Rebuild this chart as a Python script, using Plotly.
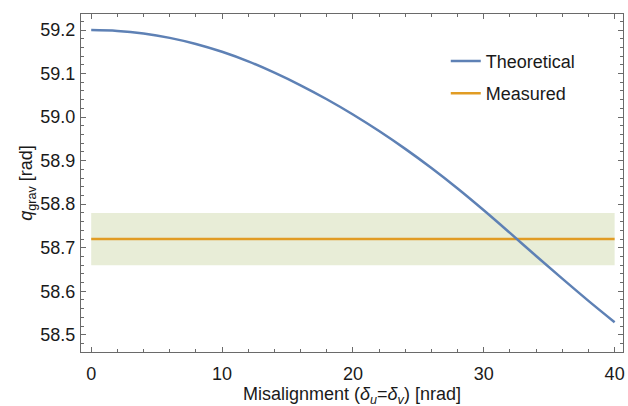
import plotly.graph_objects as go

# Data
misalignment = [0, 2, 4, 6, 8, 10, 12, 14, 16, 18, 20, 22, 24, 26, 28, 30, 32, 34, 36, 38, 40]
theoretical = [59.200, 59.198, 59.192, 59.182, 59.168, 59.150, 59.128, 59.102, 59.073, 59.041,
               59.006, 58.968, 58.927, 58.883, 58.836, 58.786, 58.734, 58.681, 58.629, 58.578, 58.529]
measured_x = [0, 40]
measured_value = 58.72
band_low = 58.66
band_high = 58.78

BLUE = "#5E81B5"
ORANGE = "#E19C24"
BAND = "rgb(232,237,215)"
FRAME = "#6a6a6a"
TEXT = "#1a1a1a"
FONT = "Liberation Sans, Arial, sans-serif"

fig = go.Figure()
fig.add_trace(go.Scatter(x=measured_x, y=[band_low] * len(measured_x), mode="lines",
                         line=dict(width=0), showlegend=False, hoverinfo="skip"))
fig.add_trace(go.Scatter(x=measured_x, y=[band_high] * len(measured_x), mode="lines",
                         line=dict(width=0), fill="tonexty", fillcolor=BAND,
                         showlegend=False, hoverinfo="skip"))
fig.add_trace(go.Scatter(x=measured_x, y=[measured_value] * len(measured_x), mode="lines",
                         line=dict(color=ORANGE, width=2.5), name="Measured",
                         legendgroup="m", legendrank=2))
fig.add_trace(go.Scatter(x=misalignment, y=theoretical, mode="lines", line_shape="spline",
                         line=dict(color=BLUE, width=2.5), name="Theoretical",
                         legendgroup="t", legendrank=1))

axis_common = dict(
    showline=True, linecolor=FRAME, linewidth=1, mirror="ticks",
    ticks="inside", tickcolor=FRAME, ticklen=5, tickwidth=1,
    showgrid=False, zeroline=False,
    tickfont=dict(family=FONT, size=18, color=TEXT),
)

fig.update_layout(
    width=628, height=406,
    margin=dict(l=81, r=3, t=14, b=54),
    plot_bgcolor="white", paper_bgcolor="white",
    font=dict(family=FONT, size=18, color=TEXT),
    xaxis=dict(range=[-0.78, 40.64], tickvals=[0, 10, 20, 30, 40],
               minor=dict(dtick=2, tick0=0, ticks="inside", ticklen=3, tickcolor=FRAME),
               ticklabelstandoff=5,
               **axis_common),
    yaxis=dict(range=[58.4605, 59.2368], tickvals=[58.5, 58.6, 58.7, 58.8, 58.9, 59.0, 59.1, 59.2],
               tickformat=".1f",
               minor=dict(dtick=0.02, tick0=58.5, ticks="inside", ticklen=3, tickcolor=FRAME),
               ticklabelstandoff=1,
               **axis_common),
    legend=dict(x=0.673, y=0.915, xanchor="left", yanchor="top", bgcolor="rgba(0,0,0,0)",
                font=dict(family=FONT, size=18, color=TEXT), itemwidth=30,
                tracegroupgap=6),
    showlegend=True,
    annotations=[
        dict(text="Misalignment (<i>δ</i><sub><i>u</i></sub>=<i>δ</i><sub><i>v</i></sub>) [nrad]",
             xref="paper", yref="paper", x=0.5, y=-0.13, xanchor="center", yanchor="middle",
             showarrow=False, font=dict(family=FONT, size=18, color=TEXT)),
        dict(text="<i>q</i><sub>grav</sub> [rad]",
             xref="paper", yref="paper", x=-0.1, y=0.5, xanchor="center", yanchor="middle",
             textangle=-90, showarrow=False, font=dict(family=FONT, size=18, color=TEXT)),
    ],
)

fig.write_html("out.html")
